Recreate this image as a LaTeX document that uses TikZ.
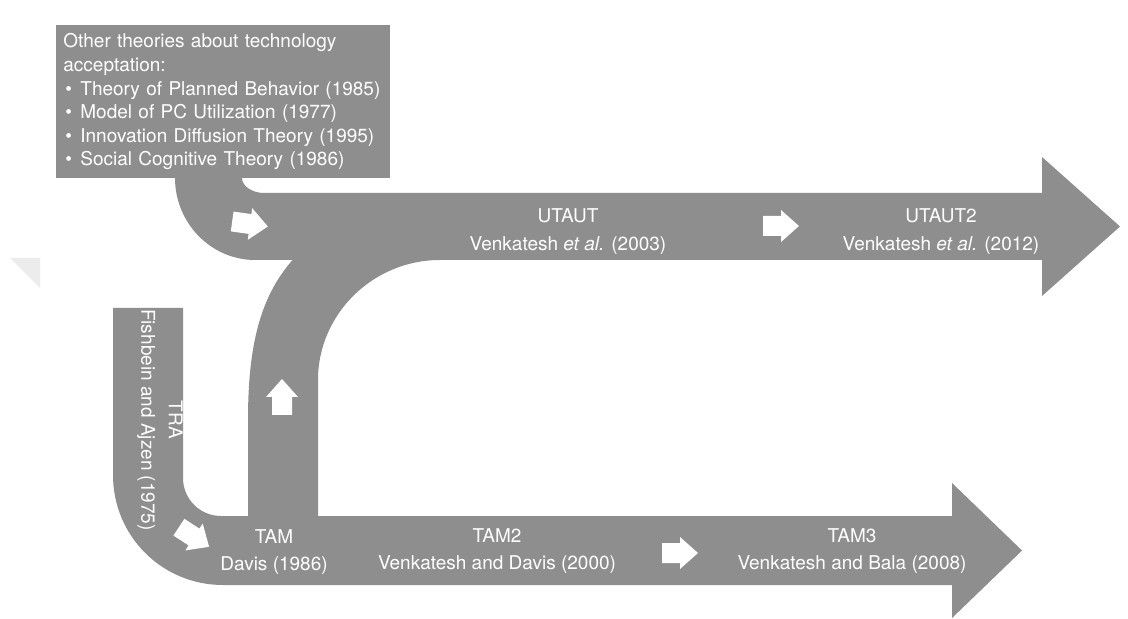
\documentclass[tikz,border=0pt]{standalone}
\usepackage{fontspec}
\setmainfont{TeX Gyre Heros}
\definecolor{bandgray}{RGB}{142,142,142}
\definecolor{faint}{RGB}{236,236,236}
\newcommand{\bul}{\hspace*{1pt}\makebox[7.5pt][l]{\textbullet}}
\tikzset{
  band/.style={fill=bandgray, draw=none},
  lbl/.style={text=white, align=center, inner sep=0pt,
    font=\fontsize{9.5}{13.75}\selectfont},
  infobox/.style={fill=bandgray, text=white, align=left, anchor=north west,
    text width=160pt, inner xsep=3.5pt, inner ysep=0pt,
    minimum width=167pt, minimum height=76.5pt,
    font=\fontsize{9.5}{11.8}\selectfont},
  pics/blockarrow/.style={code={
    \fill[white] (-18,-10) -- (0,-10) -- (0,-16) -- (18,0) -- (0,16)
      -- (0,10) -- (-18,10) -- cycle;}},
}
\begin{document}
\begin{tikzpicture}[x=0.5pt,y=-0.5pt]
\useasboundingbox[fill=white] (0,0) rectangle (1128,619);

% faint corner mark
\fill[faint] (10,258) -- (40,258) -- (40,288) -- cycle;

% upper stream: from the box down into the UTAUT arrow
\fill[band] (175,176) -- (242,176) -- (242,178)
  .. controls (242,186) and (252,193) .. (264,193)
  -- (1042,193) -- (1042,157) -- (1120,226.5) -- (1042,296) -- (1042,260)
  -- (255,260) .. controls (211,260) and (175,223) .. (175,178) -- cycle;

% rising stream: TAM up into UTAUT
\fill[band] (248,520) -- (248,420) .. controls (248,340) and (262,290) .. (300,252)
  -- (440,252) -- (440,260) .. controls (373,260) and (318,314) .. (318,380)
  -- (318,520) -- cycle;

% lower stream: TRA down into the TAM arrow
\fill[band] (113,308) -- (183,308) -- (183,478)
  .. controls (183,499) and (200,516) .. (221,516)
  -- (952,516) -- (952,483) -- (1022,550.5) -- (952,618) -- (952,585)
  -- (223,585) .. controls (162,585) and (113,536) .. (113,475) -- cycle;

% box of other theories
\node[infobox] (other) at (56,25) {%
  Other theories about technology\\
  acceptation:\\
  \bul Theory of Planned Behavior (1985)\\
  \bul Model of PC Utilization (1977)\\
  \bul Innovation Diffusion Theory (1995)\\
  \bul Social Cognitive Theory (1986)};

% white direction arrows
\pic[rotate=-8] at (250,224) {blockarrow};
\pic at (781,226) {blockarrow};
\pic[rotate=90] at (282,397) {blockarrow};
\pic[rotate=-33] at (194,537) {blockarrow};
\pic at (680,553) {blockarrow};

% labels
\node[lbl] (utaut) at (568,231.5) {UTAUT\\Venkatesh \textit{et al.} (2003)};
\node[lbl] (utaut2) at (941,231.5) {UTAUT2\\Venkatesh \textit{et al.} (2012)};
\node[lbl] (tam) at (274,552) {TAM\\Davis (1986)};
\node[lbl] (tam2) at (497,551) {TAM2\\Venkatesh and Davis (2000)};
\node[lbl] (tam3) at (852,551) {TAM3\\Venkatesh and Bala (2008)};
\node[lbl, rotate=-90] (tra) at (160,420) {TRA\\Fishbein and Ajzen (1975)};
\end{tikzpicture}
\end{document}
